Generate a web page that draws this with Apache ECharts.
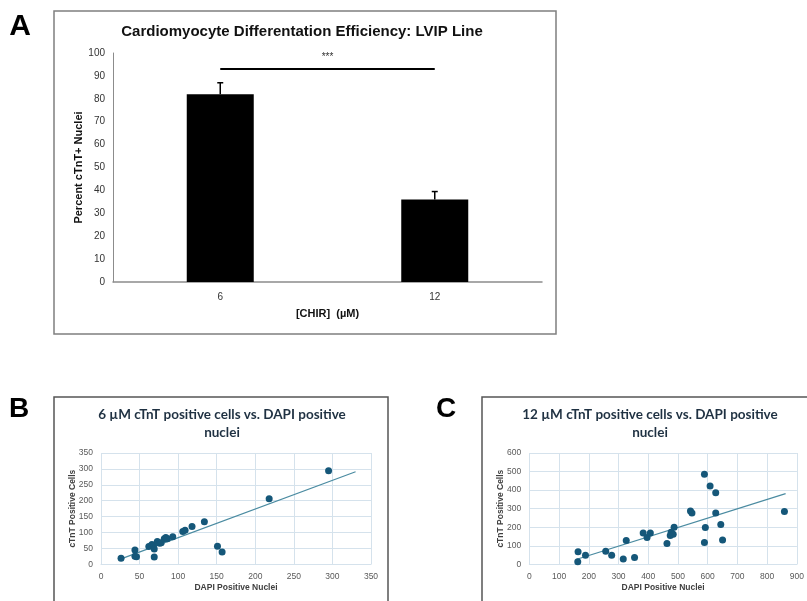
<!DOCTYPE html>
<html>
<head>
<meta charset="utf-8">
<script src="https://cdn.jsdelivr.net/npm/echarts@6/dist/echarts.min.js"></script>
<style>
  html, body { margin: 0; padding: 0; background: #fff; }
  #chart { width: 807px; height: 601px; }
</style>
</head>
<body>
<div id="chart"></div>
<script>
// ---------- Panel A data ----------
const chirCategories = ['6', '12'];
const percentCtnt = [82, 36];
const percentErr = [5, 3.5];
const sigLevel = 93;
const sigLabel = '***';
const yTicksA = { min: 0, max: 100, interval: 10 };

// ---------- Panel B data (6 µM) ----------
const dapiB = [26, 44, 44, 46, 62, 66, 68, 69, 69, 73, 76, 78, 82, 84, 86, 93, 106, 109, 118, 134, 151, 157, 218, 295];
const ctntB = [19, 45, 25, 24, 56, 62, 58, 48, 23, 72, 66, 68, 80, 84, 80, 87, 103, 107, 119, 134, 57, 39, 206, 294];
const trendB_x = [26, 330];
const trendB_y = [17, 291];

// ---------- Panel C data (12 µM) ----------
const dapiC = [164, 163, 189, 257, 277, 316, 326, 354, 383, 396, 407, 463, 474, 477, 484, 487, 542, 547, 589, 589, 592, 608, 627, 627, 644, 650, 858];
const ctntC = [67, 14, 49, 70, 49, 29, 128, 36, 169, 144, 169, 112, 155, 173, 162, 200, 288, 277, 485, 117, 198, 422, 386, 276, 214, 131, 285];
const trendC_x = [160, 862];
const trendC_y = [27, 381];

const zip = (xs, ys) => xs.map((x, i) => [x, ys[i]]);

const chart = echarts.init(document.getElementById('chart'), null, { renderer: 'canvas' });

const dotColor = '#155779';
const trendColor = '#4a8ba1';
const gridColor = '#d5e2ec';
const smallLabel = { color: '#595959', fontSize: 8.5, fontFamily: 'Liberation Sans' };
const smallName = { color: '#404040', fontSize: 8.5, fontWeight: 'bold', fontFamily: 'Liberation Sans' };

const option = {
  animation: false,
  backgroundColor: '#fff',
  grid: [
    { left: 113, right: 807 - 542, top: 53, bottom: 601 - 282, containLabel: false },
    { left: 101, right: 807 - 371, top: 453, bottom: 601 - 564.3 },
    { left: 529.3, right: 807 - 799.3, top: 453, bottom: 601 - 564.3 }
  ],
  xAxis: [
    {
      gridIndex: 0, type: 'category', data: chirCategories,
      axisLine: { lineStyle: { color: '#8c8c8c', width: 1.5 } },
      axisTick: { show: false },
      axisLabel: { color: '#333', fontSize: 10, fontFamily: 'Liberation Sans', margin: 10 },
      name: '[CHIR]  (µM)', nameLocation: 'middle', nameGap: 26, nameMoveOverlap: false,
      nameTextStyle: { color: '#111', fontSize: 11, fontWeight: 'bold', fontFamily: 'Liberation Sans' }
    },
    {
      gridIndex: 1, type: 'value', min: 0, max: 350, interval: 50,
      axisLine: { show: true, lineStyle: { color: gridColor } },
      axisTick: { show: false },
      splitLine: { lineStyle: { color: gridColor } },
      axisLabel: Object.assign({ margin: 8 }, smallLabel),
      name: 'DAPI Positive Nuclei', nameLocation: 'middle', nameGap: 19, nameMoveOverlap: false,
      nameTextStyle: smallName
    },
    {
      gridIndex: 2, type: 'value', min: 0, max: 900, interval: 100,
      axisLine: { show: true, lineStyle: { color: gridColor } },
      axisTick: { show: false },
      splitLine: { lineStyle: { color: gridColor } },
      axisLabel: Object.assign({ margin: 8 }, smallLabel),
      name: 'DAPI Positive Nuclei', nameLocation: 'middle', nameGap: 19, nameMoveOverlap: false,
      nameTextStyle: smallName
    }
  ],
  yAxis: [
    {
      gridIndex: 0, type: 'value', min: yTicksA.min, max: yTicksA.max, interval: yTicksA.interval,
      axisLine: { show: true, lineStyle: { color: '#8c8c8c', width: 1 } },
      axisTick: { show: false },
      splitLine: { show: false },
      axisLabel: { color: '#333', fontSize: 10, fontFamily: 'Liberation Sans', margin: 8 },
      name: 'Percent cTnT+ Nuclei', nameLocation: 'middle', nameGap: 29, nameMoveOverlap: false,
      nameTextStyle: { color: '#111', fontSize: 11, fontWeight: 'bold', fontFamily: 'Liberation Sans' }
    },
    {
      gridIndex: 1, type: 'value', min: 0, max: 350, interval: 50,
      axisLine: { show: false },
      axisTick: { show: false },
      splitLine: { lineStyle: { color: gridColor } },
      axisLabel: Object.assign({ margin: 8 }, smallLabel),
      name: 'cTnT Positive Cells', nameLocation: 'middle', nameGap: 24, nameMoveOverlap: false,
      nameTextStyle: smallName
    },
    {
      gridIndex: 2, type: 'value', min: 0, max: 600, interval: 100,
      axisLine: { show: false },
      axisTick: { show: false },
      splitLine: { lineStyle: { color: gridColor } },
      axisLabel: Object.assign({ margin: 8 }, smallLabel),
      name: 'cTnT Positive Cells', nameLocation: 'middle', nameGap: 24, nameMoveOverlap: false,
      nameTextStyle: smallName
    }
  ],
  series: [
    {
      type: 'bar', xAxisIndex: 0, yAxisIndex: 0, data: percentCtnt,
      barWidth: 67, itemStyle: { color: '#000' },
      markLine: {
        silent: true, symbol: 'none',
        lineStyle: { color: '#000', width: 2, type: 'solid' },
        label: { show: true, position: 'middle', formatter: sigLabel, color: '#333', fontSize: 10, distance: 7 },
        data: [[{ coord: [chirCategories[0], sigLevel] }, { coord: [chirCategories[1], sigLevel] }]]
      }
    },
    {
      type: 'custom', xAxisIndex: 0, yAxisIndex: 0,
      data: percentCtnt.map((v, i) => [i, v, percentErr[i]]),
      renderItem: function (params, api) {
        const i = api.value(0), v = api.value(1), e = api.value(2);
        const base = api.coord([i, v]);
        const top = api.coord([i, v + e]);
        const half = 3;
        return {
          type: 'group',
          children: [
            { type: 'line', shape: { x1: base[0], y1: base[1], x2: top[0], y2: top[1] }, style: { stroke: '#000', lineWidth: 1.5 } },
            { type: 'line', shape: { x1: top[0] - half, y1: top[1], x2: top[0] + half, y2: top[1] }, style: { stroke: '#000', lineWidth: 1.5 } }
          ]
        };
      },
      z: 5
    },
    {
      type: 'line', xAxisIndex: 1, yAxisIndex: 1, data: zip(trendB_x, trendB_y),
      symbol: 'none', lineStyle: { color: trendColor, width: 1.2 }, z: 2
    },
    {
      type: 'scatter', xAxisIndex: 1, yAxisIndex: 1, data: zip(dapiB, ctntB),
      symbolSize: 7, itemStyle: { color: dotColor, opacity: 1 }, z: 3
    },
    {
      type: 'line', xAxisIndex: 2, yAxisIndex: 2, data: zip(trendC_x, trendC_y),
      symbol: 'none', lineStyle: { color: trendColor, width: 1.2 }, z: 2
    },
    {
      type: 'scatter', xAxisIndex: 2, yAxisIndex: 2, data: zip(dapiC, ctntC),
      symbolSize: 7, itemStyle: { color: dotColor, opacity: 1 }, z: 3
    }
  ],
  graphic: [
    // frames
    { type: 'rect', shape: { x: 54, y: 11, width: 502, height: 323 }, style: { fill: 'none', stroke: '#7f7f7f', lineWidth: 1.5 }, z: -1, silent: true },
    { type: 'rect', shape: { x: 54, y: 397, width: 334, height: 220 }, style: { fill: 'none', stroke: '#555', lineWidth: 1.5 }, z: -1, silent: true },
    { type: 'rect', shape: { x: 482, y: 397, width: 340, height: 220 }, style: { fill: 'none', stroke: '#555', lineWidth: 1.5 }, z: -1, silent: true },
    // panel letters
    { type: 'text', x: 20, y: 27, style: { text: 'A', font: 'bold 30px "Liberation Sans"', fill: '#000', textAlign: 'center', textVerticalAlign: 'middle' } },
    { type: 'text', x: 19, y: 409, style: { text: 'B', font: 'bold 28px "Liberation Sans"', fill: '#000', textAlign: 'center', textVerticalAlign: 'middle' } },
    { type: 'text', x: 446, y: 409, style: { text: 'C', font: 'bold 28px "Liberation Sans"', fill: '#000', textAlign: 'center', textVerticalAlign: 'middle' } },
    // titles
    { type: 'text', x: 302, y: 32, style: { text: 'Cardiomyocyte Differentation Efficiency: LVIP Line', font: 'bold 15px "Liberation Sans"', fill: '#111', textAlign: 'center', textVerticalAlign: 'middle' } },
    { type: 'text', x: 222, y: 424, style: { text: '6 µM cTnT positive cells vs. DAPI positive\nnuclei', font: 'bold 13.5px Lato', lineHeight: 18, fill: '#1f3142', textAlign: 'center', textVerticalAlign: 'middle' } },
    { type: 'text', x: 650, y: 424, style: { text: '12 µM cTnT positive cells vs. DAPI positive\nnuclei', font: 'bold 13.5px Lato', lineHeight: 18, fill: '#1f3142', textAlign: 'center', textVerticalAlign: 'middle' } }
  ]
};

chart.setOption(option);
</script>
</body>
</html>
